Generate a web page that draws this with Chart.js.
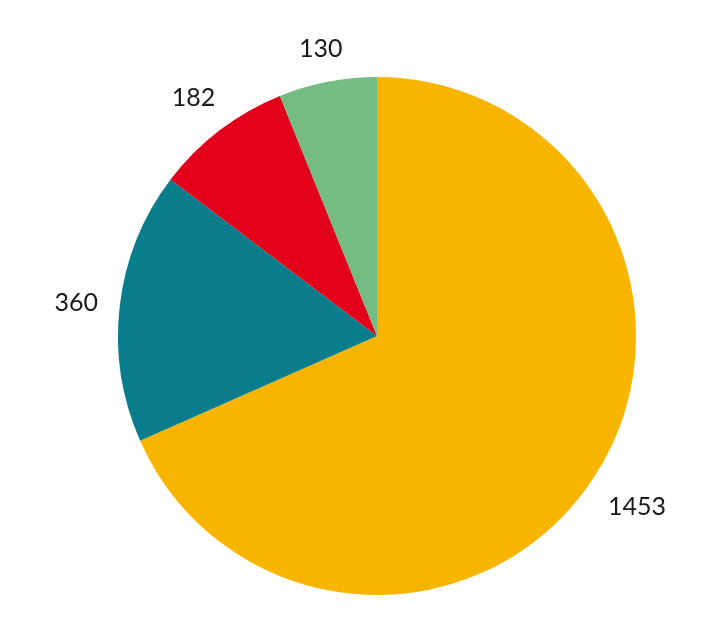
<!DOCTYPE html>
<html>
<head>
<meta charset="utf-8">
<script src="https://cdn.jsdelivr.net/npm/chart.js@4"></script>
<style>
html,body{margin:0;padding:0;background:#fff;}
canvas{display:block;}
</style>
</head>
<body>
<canvas id="c" width="726" height="624"></canvas>
<script>
const categories = ['A', 'B', 'C', 'D'];
const values = [1453, 360, 182, 130];
const colors = ['#F8B500', '#0A7D8C', '#E2001A', '#74BC83'];

const labelPlugin = {
  id: 'outerLabels',
  afterDatasetsDraw(chart) {
    const ctx = chart.ctx;
    const meta = chart.getDatasetMeta(0);
    ctx.save();
    ctx.font = '400 25px Lato, "Open Sans", sans-serif';
    ctx.fillStyle = '#1a1a1a';
    ctx.textAlign = 'center';
    ctx.textBaseline = 'middle';
    meta.data.forEach((arc, i) => {
      const mid = (arc.startAngle + arc.endAngle) / 2;
      const cx = Math.cos(mid), cy = Math.sin(mid);
      const text = String(values[i]);
      const w = ctx.measureText(text).width;
      const ext = Math.abs(cx) * w / 2 + Math.abs(cy) * 11;
      const r = arc.outerRadius + 21 + ext;
      ctx.fillText(text, arc.x + cx * r, arc.y + cy * r + 2);
    });
    ctx.restore();
  }
};

new Chart(document.getElementById('c'), {
  type: 'pie',
  data: {
    labels: categories,
    datasets: [{
      data: values,
      backgroundColor: colors,
      borderWidth: 0
    }]
  },
  options: {
    responsive: false,
    animation: false,
    layout: { padding: { top: 77, bottom: 29, left: 118, right: 90 } },
    plugins: { legend: { display: false }, tooltip: { enabled: false } }
  },
  plugins: [labelPlugin]
});
</script>
</body>
</html>
